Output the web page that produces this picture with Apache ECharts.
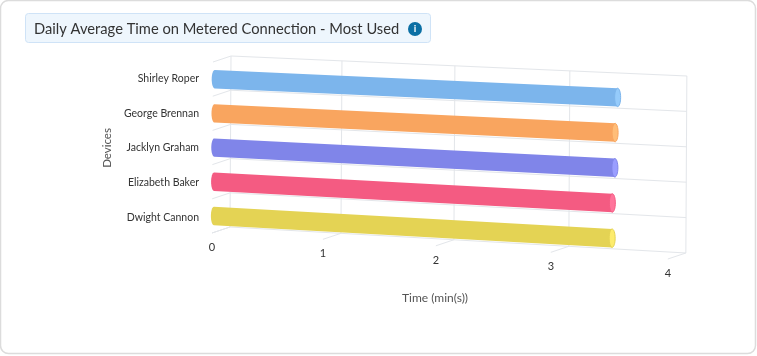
<!DOCTYPE html>
<html>
<head>
<meta charset="utf-8">
<title>Daily Average Time on Metered Connection</title>
<style>
  html, body { margin: 0; padding: 0; background: #fff; }
  #chart { width: 757px; height: 356px; }
</style>
<script src="https://cdn.jsdelivr.net/npm/echarts@6/dist/echarts.min.js"></script>
</head>
<body>
<div id="chart"></div>
<script>
var categories = ["Shirley Roper", "George Brennan", "Jacklyn Graham", "Elizabeth Baker", "Dwight Cannon"];
var values = [3.55, 3.53, 3.53, 3.51, 3.51];
var colors = ["#7cb5ec", "#f9a55f", "#8085e9", "#f45b82", "#e4d354"];
var capColors = ["#95cbfb", "#ffbd78", "#9a9eff", "#ff749b", "#fdec6d"];
var xTicks = [0, 1, 2, 3, 4];

var fontName = "Lato";
var gridColor = "#e3e6ea";

// the grid is the front plane of the 3d box, this maps it onto the tilted walls
var gridLeft = 213, gridTop = 61, gridWidth = 458, gridHeight = 174;
function project(px, py, depth) {
  var t = (px - gridLeft) / gridWidth;
  var s = (py - gridTop) / gridHeight;
  var u = 0.9649 * t / (1 - 0.0348 * t);
  return [
    231 + 456 * u - s - 18 * (1 - depth),
    56 + 20 * u + s * (171 + 6 * u) + 6 * (1 - depth)
  ];
}

function lineEl(a, b) {
  return {
    type: "line",
    shape: { x1: a[0], y1: a[1], x2: b[0], y2: b[1] },
    style: { stroke: gridColor, lineWidth: 1 }
  };
}

// vertical wall lines, floor ticks and the tick numbers
function renderXTick(params, api) {
  var px = api.coord([api.value(0), 0])[0];
  var bottom = gridTop + gridHeight;
  var floor = project(px, bottom, 0);
  return {
    type: "group",
    children: [
      lineEl(project(px, gridTop, 1), project(px, bottom, 1)),
      lineEl(project(px, bottom, 1), floor),
      {
        type: "text",
        style: {
          x: floor[0],
          y: floor[1] + 14.5,
          text: String(api.value(0)),
          fill: "#333",
          font: "11px " + fontName,
          align: "center",
          verticalAlign: "middle"
        }
      }
    ]
  };
}

// horizontal wall lines between the rows and the ticks on the left side
function renderRowLine(params, api) {
  var py = api.coord([0, api.value(0)])[1] - api.size([0, 1])[1] / 2;
  var left = gridLeft, right = gridLeft + gridWidth;
  return {
    type: "group",
    children: [
      lineEl(project(left, py, 1), project(right, py, 1)),
      lineEl(project(left, py, 1), project(left, py, 0))
    ]
  };
}

function renderBar(params, api) {
  var end = api.coord([api.value(0), api.value(1)]);
  var start = api.coord([0, api.value(1)]);
  var depth = 0.1, ry = 9.2, rx = 3, lift = 0.7;
  var a = project(start[0], start[1] + lift, depth);
  var b = project(end[0], end[1] + lift, depth);
  var body = [], cap = [], i, ang;
  for (i = 0; i <= 16; i++) {
    ang = Math.PI / 2 + Math.PI * i / 16;
    body.push([a[0] + rx * Math.cos(ang), a[1] - ry * Math.sin(ang)]);
  }
  body.push([b[0], b[1] + ry], [b[0], b[1] - ry]);
  for (i = 0; i < 32; i++) {
    ang = 2 * Math.PI * i / 32;
    cap.push([b[0] + rx * Math.cos(ang), b[1] + ry * Math.sin(ang)]);
  }
  return {
    type: "group",
    children: [
      { type: "polygon", shape: { points: body }, style: { fill: colors[params.dataIndex] } },
      {
        type: "polygon",
        shape: { points: cap },
        style: { fill: capColors[params.dataIndex], stroke: colors[params.dataIndex], lineWidth: 1 }
      }
    ]
  };
}

var rowLines = categories.map(function (c, i) { return [i]; });
rowLines.push([categories.length - 0.0001]);

var myChart = echarts.init(document.getElementById("chart"), null, { renderer: "canvas" });
myChart.setOption({
  animation: false,
  backgroundColor: "#fff",
  title: {
    text: "Daily Average Time on Metered Connection - Most Used",
    left: 25,
    top: 13,
    padding: [7, 32, 5, 9],
    backgroundColor: "#eef6fd",
    borderColor: "#cfe3f7",
    borderWidth: 1,
    borderRadius: 3,
    textStyle: { fontFamily: fontName, fontSize: 14.7, fontWeight: "normal", color: "#333", lineHeight: 18 }
  },
  graphic: [
    {
      type: "rect",
      z: -1,
      silent: true,
      shape: { x: 0.5, y: 0.5, width: 755, height: 353, r: 8 },
      style: { fill: "#fff", stroke: "#dcdcdc", lineWidth: 1.5 }
    },
    { type: "circle", z: 10, shape: { cx: 415, cy: 29, r: 7 }, style: { fill: "#0b6fa4" } },
    {
      type: "text",
      z: 11,
      style: {
        x: 415, y: 29, text: "i", fill: "#fff",
        font: "bold 10px " + fontName, align: "center", verticalAlign: "middle"
      }
    }
  ],
  grid: { left: gridLeft, top: gridTop, width: gridWidth, height: gridHeight },
  xAxis: {
    type: "value",
    min: 0,
    max: 4,
    interval: 1,
    name: "Time (min(s))",
    nameLocation: "middle",
    nameGap: 57,
    nameTextStyle: { fontFamily: fontName, fontSize: 12, color: "#555", padding: [0, 14, 0, 0] },
    axisLine: { show: false },
    axisTick: { show: false },
    axisLabel: { show: false },
    splitLine: { show: false }
  },
  yAxis: {
    type: "category",
    inverse: true,
    data: categories,
    name: "Devices",
    nameLocation: "middle",
    nameGap: 98,
    nameTextStyle: { fontFamily: fontName, fontSize: 11.5, color: "#555" },
    axisLine: { show: false },
    axisTick: { show: false },
    axisLabel: { margin: 14, color: "#333", fontFamily: fontName, fontSize: 10.5, padding: [2, 0, 0, 0] },
    splitLine: { show: false }
  },
  series: [
    {
      type: "custom",
      name: "ticks",
      silent: true,
      clip: false,
      z: 1,
      renderItem: renderXTick,
      data: xTicks.map(function (v) { return [v]; })
    },
    {
      type: "custom",
      name: "rows",
      silent: true,
      clip: false,
      z: 1,
      renderItem: renderRowLine,
      data: rowLines
    },
    {
      type: "custom",
      name: "Time",
      clip: false,
      z: 2,
      renderItem: renderBar,
      data: values.map(function (v, i) { return [v, i]; })
    }
  ]
});
</script>
</body>
</html>
